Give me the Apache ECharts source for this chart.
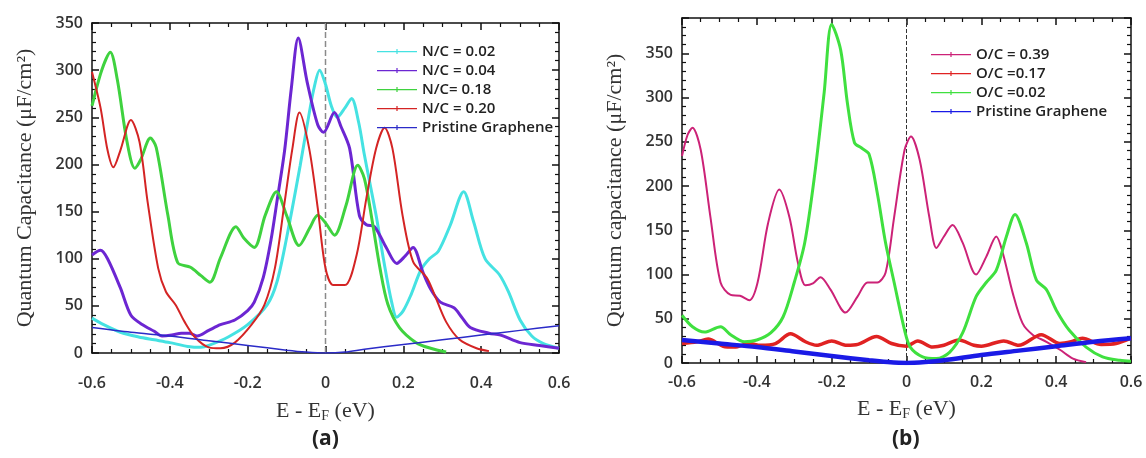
<!DOCTYPE html>
<html>
<head>
<meta charset="utf-8">
<script src="https://cdn.jsdelivr.net/npm/echarts@6/dist/echarts.min.js"></script>
<style>
  html, body { margin: 0; padding: 0; background: #fff; }
  #chart { width: 1146px; height: 458px; }
</style>
</head>
<body>
<div id="chart"></div>
<script>
// panel (a): N-doped graphene, [E - EF (eV), Cq (uF/cm2)]
const nc002 = [[-0.6,37],[-0.57,30],[-0.527,22],[-0.48,17],[-0.44,14],[-0.4,11],[-0.354,7],[-0.32,6],[-0.3,8],[-0.25,17],[-0.2,30],[-0.15,51],[-0.125,75],[-0.1,122],[-0.065,199],[-0.047,242],[-0.03,280],[-0.015,300],[0,285],[0.015,262],[0.03,250],[0.05,260],[0.067,270],[0.085,245],[0.1,210],[0.13,146],[0.15,97],[0.17,54],[0.183,38],[0.2,45],[0.22,62],[0.245,88],[0.267,100],[0.29,108],[0.32,135],[0.355,171],[0.38,140],[0.41,100],[0.447,83],[0.47,65],[0.5,35],[0.53,18],[0.56,10],[0.6,5]]
const nc004 = [[-0.6,104],[-0.578,109],[-0.56,100],[-0.527,69],[-0.5,40],[-0.47,30],[-0.44,23],[-0.42,18],[-0.395,19],[-0.37,21],[-0.35,21],[-0.33,18],[-0.3,24],[-0.27,30],[-0.233,35],[-0.2,45],[-0.183,54],[-0.16,80],[-0.14,120],[-0.125,160],[-0.105,215],[-0.088,280],[-0.07,334],[-0.047,287],[-0.02,242],[-0.005,234],[0.023,255],[0.04,240],[0.062,217],[0.087,146],[0.105,136],[0.126,134],[0.157,111],[0.183,95],[0.205,103],[0.225,112],[0.25,86],[0.27,68],[0.295,54],[0.33,48],[0.35,38],[0.372,27],[0.42,21],[0.45,19],[0.5,11],[0.55,8],[0.6,5]]
const nc018 = [[-0.6,262],[-0.575,300],[-0.553,319],[-0.535,290],[-0.51,224],[-0.49,196],[-0.475,205],[-0.45,228],[-0.435,218],[-0.405,146],[-0.38,96],[-0.347,91],[-0.32,82],[-0.297,75],[-0.27,101],[-0.23,134],[-0.21,122],[-0.183,112],[-0.155,146],[-0.126,171],[-0.1,146],[-0.068,114],[-0.04,133],[-0.02,146],[0,138],[0.023,125],[0.053,157],[0.083,199],[0.1,185],[0.12,140],[0.14,90],[0.16,52],[0.19,27],[0.233,11],[0.27,5],[0.31,1]]
const nc020 = [[-0.6,298],[-0.578,260],[-0.56,215],[-0.545,197],[-0.527,215],[-0.5,247],[-0.478,224],[-0.457,160],[-0.43,90],[-0.41,65],[-0.385,51],[-0.362,33],[-0.336,17],[-0.3,6],[-0.27,5],[-0.233,11],[-0.19,30],[-0.157,51],[-0.13,90],[-0.105,160],[-0.085,217],[-0.067,255],[-0.042,217],[-0.02,154],[0,90],[0.02,72],[0.05,72],[0.08,104],[0.105,164],[0.13,217],[0.152,239],[0.172,217],[0.198,146],[0.225,97],[0.26,80],[0.28,62],[0.31,33],[0.345,14],[0.388,5],[0.42,2]]
const pristineA = [[-0.6,27],[-0.5,22],[-0.4,18],[-0.3,13],[-0.2,8],[-0.1,3],[-0.05,1],[0,0],[0.05,1],[0.1,4],[0.2,9],[0.3,14],[0.4,19],[0.5,24],[0.6,29]]

// panel (b): O-doped graphene
const oc039 = [[-0.6,234],[-0.585,258],[-0.572,266],[-0.55,241],[-0.524,165],[-0.497,91],[-0.47,77],[-0.445,76],[-0.42,71],[-0.398,91],[-0.37,158],[-0.34,196],[-0.313,165],[-0.29,113],[-0.27,88],[-0.25,90],[-0.23,97],[-0.203,83],[-0.163,57],[-0.131,75],[-0.104,91],[-0.078,91],[-0.056,102],[-0.033,165],[-0.005,241],[0.012,256],[0.035,230],[0.061,165],[0.08,130],[0.1,143],[0.123,156],[0.15,136],[0.186,100],[0.213,120],[0.24,143],[0.257,125],[0.284,79],[0.31,45],[0.337,32],[0.374,24],[0.41,15],[0.445,5],[0.48,1]]
const oc017 = [[-0.6,22],[-0.56,24],[-0.53,27],[-0.49,19],[-0.46,18],[-0.42,22],[-0.39,20],[-0.35,22],[-0.31,33],[-0.27,24],[-0.24,20],[-0.2,25],[-0.16,20],[-0.13,21],[-0.08,30],[-0.04,22],[0,19],[0.03,25],[0.07,18],[0.1,20],[0.14,26],[0.18,20],[0.2,19],[0.26,25],[0.3,20],[0.36,32],[0.41,22],[0.44,24],[0.47,28],[0.52,21],[0.56,22],[0.6,28]]
const oc002 = [[-0.6,54],[-0.572,41],[-0.54,35],[-0.497,41],[-0.47,32],[-0.433,24],[-0.4,26],[-0.363,34],[-0.33,52],[-0.3,91],[-0.272,136],[-0.246,211],[-0.22,306],[-0.2,383],[-0.176,354],[-0.158,294],[-0.139,249],[-0.12,243],[-0.1,236],[-0.078,192],[-0.056,136],[-0.033,91],[-0.005,37],[0.01,18],[0.043,7],[0.08,5],[0.115,12],[0.15,34],[0.186,75],[0.213,91],[0.24,105],[0.267,143],[0.29,168],[0.32,136],[0.347,94],[0.374,83],[0.4,60],[0.435,37],[0.48,18],[0.524,7],[0.57,3],[0.6,2]]
const pristineB = [[-0.6,26],[-0.5,22],[-0.4,18],[-0.3,13],[-0.2,8],[-0.1,3],[-0.05,1],[0,0],[0.05,1],[0.1,3],[0.2,9],[0.3,14],[0.4,19],[0.5,24],[0.6,28]]

const xRange = [-0.6, 0.6]
const yMaxA = 350
const yMaxB = 390

const chart = echarts.init(document.getElementById('chart'))

const serif = 'Liberation Serif'

function labelFont () {
  return { fontFamily: 'Open Sans', fontWeight: 600, fontSize: 16, color: '#333' }
}

function frame (split) {
  return {
    splitLine: { show: false },
    axisLine: { show: true, onZero: false, lineStyle: { color: '#111', width: 1.5 } },
    axisTick: { show: true, inside: true, length: 7, lineStyle: { color: '#111', width: 1.5 } },
    minorTick: { show: true, splitNumber: split, length: 4, lineStyle: { color: '#111', width: 1.2 } }
  }
}

function xAxis (grid, pos, extra) {
  return Object.assign({ type: 'value', gridIndex: grid, position: pos, min: xRange[0], max: xRange[1], interval: 0.2 }, frame(4), extra)
}

function yAxis (grid, pos, max, extra) {
  return Object.assign({ type: 'value', gridIndex: grid, position: pos, min: 0, max: max, interval: 50 }, frame(5), extra)
}

const xName = { fontFamily: serif, fontSize: 22, color: '#333', rich: { s: { fontFamily: serif, fontSize: 14, color: '#333', padding: [10, 0, 0, 0] } } }

const xAxes = [
  xAxis(0, 'bottom', {
    axisLabel: Object.assign({ margin: 22 }, labelFont()),
    name: 'E - E{s|F} (eV)', nameLocation: 'middle', nameGap: 46, nameTextStyle: xName
  }),
  xAxis(0, 'top', { axisLabel: { show: false } }),
  xAxis(1, 'bottom', {
    axisLabel: Object.assign({ margin: 11 }, labelFont()),
    name: 'E - E{s|F} (eV)', nameLocation: 'middle', nameGap: 34, nameTextStyle: xName
  }),
  xAxis(1, 'top', { axisLabel: { show: false } })
]

const yAxes = [
  yAxis(0, 'left', yMaxA, {
    axisLabel: Object.assign({ margin: 9 }, labelFont()),
    name: 'Quantum Capacitance (μF/cm²)', nameLocation: 'middle', nameGap: 56,
    nameTextStyle: { fontFamily: serif, fontSize: 22, color: '#333' }
  }),
  yAxis(0, 'right', yMaxA, { axisLabel: { show: false } }),
  yAxis(1, 'left', yMaxB, {
    axisLabel: Object.assign({ margin: 9, showMaxLabel: false }, labelFont()),
    name: 'Quantum capacitance (μF/cm²)', nameLocation: 'middle', nameGap: 56,
    nameTextStyle: { fontFamily: serif, fontSize: 22, color: '#333' }
  }),
  yAxis(1, 'right', yMaxB, { axisLabel: { show: false } })
]

function curve (name, data, color, width, xi, yi) {
  return {
    name: name, type: 'line', data: data, xAxisIndex: xi, yAxisIndex: yi,
    smooth: 0.3, symbol: 'none', color: color,
    lineStyle: { color: color, width: width }
  }
}

// dashed line at E = EF, drawn as a line series on the x = 0 value
function zeroSeries (max, color, width, xi, yi) {
  return {
    type: 'line', data: [[0, 0], [0, max]], xAxisIndex: xi, yAxisIndex: yi,
    symbol: 'none', silent: true, z: 1,
    lineStyle: { type: 'dashed', color: color, width: width }
  }
}

const legendIcon = 'path://M0,4.4h40v1.4h-40z M19.4,2.5h1.2v5h-1.2z'
const legendText = { fontFamily: 'Open Sans', fontWeight: 600, fontSize: 15, color: '#222' }

const seriesA = [
  curve('N/C = 0.02', nc002, '#45e2e2', 3, 0, 0),
  curve('N/C = 0.04', nc004, '#6c26d2', 3, 0, 0),
  curve('N/C= 0.18', nc018, '#3fd23f', 3, 0, 0),
  curve('N/C = 0.20', nc020, '#d42424', 2, 0, 0),
  curve('Pristine Graphene', pristineA, '#2b2bc8', 1.5, 0, 0)
]

const seriesB = [
  curve('O/C = 0.39', oc039, '#cc2277', 2, 2, 2),
  curve('O/C =0.17', oc017, '#e02222', 3.5, 2, 2),
  curve('O/C =0.02', oc002, '#3fe03f', 3, 2, 2),
  curve('Pristine Graphene ', pristineB, '#1a1ae6', 4.5, 2, 2)
]

const option = {
  animation: false,
  grid: [
    { left: 92, right: 587, top: 23, bottom: 105 },
    { left: 682, right: 15, top: 18, bottom: 95 }
  ],
  xAxis: xAxes,
  yAxis: yAxes,
  legend: [
    {
      data: seriesA.map(s => s.name), orient: 'vertical', left: 372, top: 39,
      icon: legendIcon, itemWidth: 40, itemHeight: 10, itemGap: 4,
      selectedMode: false, textStyle: legendText
    },
    {
      data: seriesB.map(s => s.name), orient: 'vertical', left: 926, top: 42,
      icon: legendIcon, itemWidth: 40, itemHeight: 10, itemGap: 4,
      selectedMode: false, textStyle: legendText,
      formatter: n => n.trim()
    }
  ],
  graphic: [
    { type: 'text', left: 312, top: 429, style: { text: '(a)', font: 'bold 21px "Open Sans"', fill: '#222' } },
    { type: 'text', left: 892, top: 429, style: { text: '(b)', font: 'bold 21px "Open Sans"', fill: '#222' } }
  ],
  series: [zeroSeries(yMaxA, '#8a8a8a', 1.5, 0, 0), zeroSeries(yMaxB, '#333', 1, 2, 2)]
    .concat(seriesA, seriesB)
}

chart.setOption(option)
</script>
</body>
</html>
